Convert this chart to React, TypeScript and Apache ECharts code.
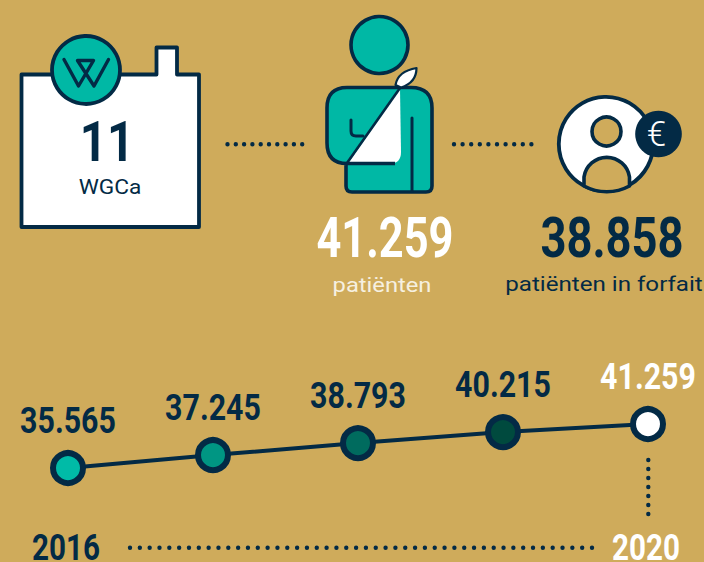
import React, { useEffect, useRef } from "react";
import * as echarts from "echarts";

const years = ["2016", "2017", "2018", "2019", "2020"];
const patients = [35565, 37245, 38793, 40215, 41259];
const valueLabels = ["35.565", "37.245", "38.793", "40.215", "41.259"];
const pointFills = ["#00bba7", "#009683", "#006b5e", "#004a3e", "#ffffff"];
const shownYears = ["2016", "2020"];

const NAVY = "#032a45";
const GOLD = "#cfab5b";
const TEAL = "#00b8a5";
const WHITE = "#ffffff";
const HEAVY = "Roboto";
const SANS = "Roboto";

const housePath =
  "M21.5 74.5 L156.5 74.5 L156.5 47.5 L177 47.5 L177 74.5 L199 74.5 L199 227 L21.5 227 Z";
const bodyPath =
  "M346 163.5 L346 186 Q346 192 352 192 L426 192 Q432 192 432 186 L432 108 Q432 87.5 411 87.5 L347 87.5 Q327 87.5 327 108 L327 143 Q327 163.5 347 163.5 Z";
const slingPath = "M400 89 L401 152 Q401 163.5 390 163.5 L348 163.5 Z";
const leafPath = "M416.5 68 C405 70 397 76 395.5 85 L401 87.5 C412 84 416.5 78 416.5 68 Z";
const armPath = "M351 120 L351 131 Q351 136 356 136 L363 136";
const sleevePath = "M412 118 L412 191";
const logoPath = "M64 59.5 L78.5 86 L93.5 60.5 L77.5 60.5 L94 86 L108.5 59.5";
const shoulderPath = "M584 186 L584 177 A23 23 0 0 1 629.5 177 L629.5 186 A48 48 0 0 1 584 186 Z";

function shape(name: string, d: string) {
  echarts.graphic.registerShape(name, echarts.graphic.extendPath(d as any, {} as any));
}
shape("house", housePath);
shape("body", bodyPath);
shape("sling", slingPath);
shape("leaf", leafPath);
shape("arm", armPath);
shape("sleeve", sleevePath);
shape("wlogo", logoPath);
shape("shoulder", shoulderPath);

function txt(
  text: string,
  x: number,
  y: number,
  size: number,
  fill: string,
  family: string,
  weight: string,
  scaleX = 1
) {
  return {
    type: "text",
    x,
    y,
    scaleX,
    silent: true,
    style: {
      text,
      fill,
      font: `${weight} ${size}px ${family}`,
      textAlign: "center",
      textVerticalAlign: "middle",
    },
  };
}

function dots(x1: number, y1: number, x2: number, y2: number, pitch: number, w: number) {
  return {
    type: "line",
    silent: true,
    shape: { x1, y1, x2, y2 },
    style: { stroke: NAVY, lineWidth: w, lineCap: "round", lineDash: [0, pitch] },
  };
}

function icon(type: string, fill: string, lineWidth: number) {
  return {
    type,
    silent: true,
    style: { fill, stroke: NAVY, lineWidth, lineJoin: "round", lineCap: "round" },
  };
}

function renderLabels(params: any, api: any) {
  const i = params.dataIndex;
  const [x, y] = api.coord([api.value(0), api.value(1)]);
  const last = i === patients.length - 1;
  const color = last ? WHITE : NAVY;
  const children: any[] = [txt(valueLabels[i], x, y - 48, 37, color, HEAVY, "bold", 0.82)];
  if (shownYears.includes(years[i])) {
    children.push(txt(years[i], x - 2, 547, 37, color, HEAVY, "bold", 0.8));
  }
  return { type: "group", children };
}

export default function App() {
  const ref = useRef<HTMLDivElement>(null);
  useEffect(() => {
    const chart = echarts.init(ref.current!, null, { renderer: "svg" });
    chart.setOption({
      animation: false,
      backgroundColor: GOLD,
      grid: { left: 68, right: 56, top: 418.3, height: 54.1, outerBoundsMode: "none" },
      xAxis: {
        type: "category",
        data: years,
        boundaryGap: false,
        axisLine: { show: false },
        axisTick: { show: false },
        axisLabel: { show: false },
      },
      yAxis: { type: "value", min: 35000, max: 42000, show: false },
      series: [
        {
          type: "line",
          data: patients.map((value, i) => ({
            value,
            itemStyle: { color: pointFills[i], borderColor: NAVY, borderWidth: 6, opacity: 1 },
          })),
          symbol: "circle",
          symbolSize: 30,
          showSymbol: true,
          showAllSymbol: true,
          lineStyle: { color: NAVY, width: 4 },
        },
        {
          type: "custom",
          data: patients.map((value, i) => [i, value]),
          encode: { x: 0, y: 1 },
          renderItem: renderLabels,
          silent: true,
        },
      ],
      graphic: {
        elements: [
          icon("house", WHITE, 3.8),
          { type: "circle", silent: true, shape: { cx: 86, cy: 70, r: 34 }, style: { fill: TEAL, stroke: NAVY, lineWidth: 3.8 } },
          { ...icon("wlogo", "none", 3.4), style: { fill: "none", stroke: NAVY, lineWidth: 3.4, lineJoin: "round", lineCap: "round" } },
          txt("11", 107, 142, 56, NAVY, HEAVY, "bold", 0.85),
          txt("WGCa", 110, 187, 21, NAVY, SANS, "400", 1.08),
          dots(227.5, 144.3, 303, 144.3, 8.3, 4.4),
          dots(454, 144.3, 532, 144.3, 8.6, 4.4),
          { type: "circle", silent: true, shape: { cx: 379.5, cy: 45, r: 28.5 }, style: { fill: TEAL, stroke: NAVY, lineWidth: 3.6 } },
          icon("body", TEAL, 3.6),
          icon("sling", WHITE, 0),
          { type: "line", silent: true, shape: { x1: 400, y1: 88, x2: 347, y2: 163 }, style: { stroke: NAVY, lineWidth: 2.6 } },
          { type: "line", silent: true, shape: { x1: 347, y1: 163.5, x2: 395, y2: 163.5 }, style: { stroke: NAVY, lineWidth: 3.6 } },
          icon("leaf", WHITE, 2.2),
          { ...icon("arm", "none", 3), style: { fill: "none", stroke: NAVY, lineWidth: 3, lineCap: "round", lineJoin: "round" } },
          { ...icon("sleeve", "none", 3), style: { fill: "none", stroke: NAVY, lineWidth: 3, lineCap: "round" } },
          txt("41.259", 385, 238, 56, WHITE, HEAVY, "bold", 0.775),
          txt("patiënten", 382, 285, 21, "#f6f0e0", SANS, "400", 1.13),
          { type: "circle", silent: true, shape: { cx: 606, cy: 144, r: 47.2 }, style: { fill: WHITE, stroke: NAVY, lineWidth: 3.8 } },
          { type: "circle", silent: true, shape: { cx: 606.5, cy: 131.5, r: 14.5 }, style: { fill: GOLD, stroke: NAVY, lineWidth: 3.6 } },
          icon("shoulder", GOLD, 3.6),
          { type: "circle", silent: true, shape: { cx: 658.5, cy: 134, r: 23.3 }, style: { fill: NAVY } },
          txt("€", 656.5, 134, 35, WHITE, SANS, "300"),
          txt("38.858", 612, 238, 56, NAVY, HEAVY, "bold", 0.81),
          txt("patiënten in forfait", 604, 284, 21, NAVY, SANS, "400", 1.15),
          dots(130, 547.7, 600, 547.7, 9.83, 4.4),
          dots(648.3, 460, 648.3, 515, 9, 4.4),
        ],
      },
    });
    return () => chart.dispose();
  }, []);
  return <div ref={ref} style={{ position: "absolute", left: 0, top: 0, width: 704, height: 562 }} />;
}
